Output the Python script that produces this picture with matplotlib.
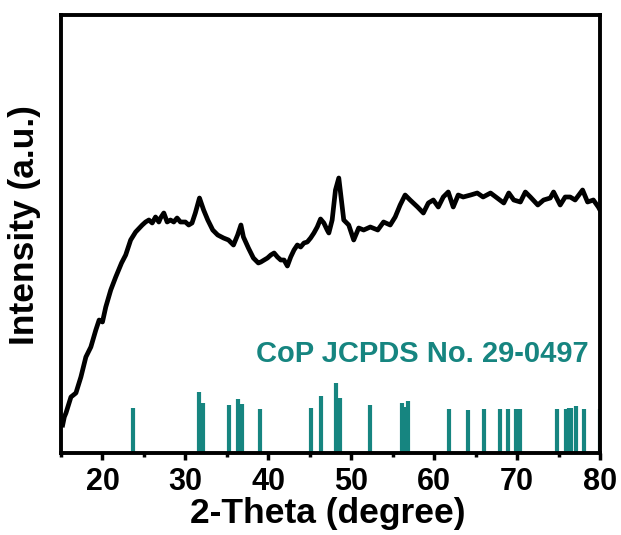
import matplotlib
matplotlib.use("Agg")
import matplotlib.pyplot as plt
from matplotlib.ticker import MultipleLocator

# ---- data ----
two_theta = [15.2, 15.4, 15.6, 16.2, 16.8, 17.4, 18.0, 18.6, 19.2, 19.6, 20.0, 20.4, 21.0, 21.6,
             22.3, 22.8, 23.4, 24.0, 24.8, 25.2, 25.6, 26.0, 26.4, 26.8, 27.0, 27.4, 27.8,
             28.2, 28.6, 29.0, 29.4, 30.0, 30.4, 30.8, 31.2, 31.7, 32.2, 32.7, 33.3, 33.9,
             34.6, 35.2, 35.8, 36.3, 36.7, 37.0, 37.6, 38.2, 38.8, 39.1, 39.5, 39.9, 40.3,
             40.7, 41.1, 41.5, 41.9, 42.3, 42.7, 43.1, 43.5, 43.9, 44.3, 44.7, 45.1, 45.5,
             45.9, 46.3, 46.7, 47.1, 47.3, 47.7, 48.1, 48.5, 49.1, 49.7, 50.3, 50.9, 51.5,
             52.3, 53.2, 53.9, 54.7, 55.3, 55.9, 56.5, 57.1, 58.0, 58.7, 59.3, 59.9, 60.5,
             61.1, 61.7, 62.3, 62.9, 63.5, 64.4, 65.2, 65.9, 66.8, 67.6, 68.4, 69.0, 69.6,
             70.4, 71.0, 71.6, 72.5, 73.2, 74.0, 74.4, 75.2, 75.8, 76.4, 77.0, 77.9, 78.5,
             79.2, 79.8, 80.0]
intensity = [28, 36, 40, 56, 60, 76, 96, 106, 123, 133, 131, 146, 163, 176,
             190, 198, 213, 221, 228, 231, 233, 230, 236, 231, 235, 240, 231,
             233, 231, 235, 231, 231, 228, 230, 240, 255, 243, 233, 223, 218,
             215, 213, 208, 218, 228, 216, 205, 195, 190, 191, 193, 195, 198,
             200, 196, 193, 193, 187, 196, 203, 208, 206, 210, 211, 215, 220,
             226, 234, 230, 223, 220, 233, 263, 275, 233, 228, 213, 225, 223,
             226, 223, 231, 228, 236, 248, 258, 253, 246, 240, 250, 253, 246,
             256, 261, 246, 258, 256, 258, 260, 256, 260, 255, 250, 260, 253,
             251, 261, 256, 248, 253, 255, 261, 248, 256, 256, 253, 263, 251,
             253, 246, 243]

ref_pos = [23.7, 31.7, 32.1, 35.3, 36.3, 36.8, 39.0, 45.2, 46.3, 48.2, 48.6, 52.3,
           56.1, 56.4, 56.9, 61.8, 64.1, 66.0, 68.0, 68.9, 69.9, 70.4, 74.8, 75.9,
           76.3, 76.5, 77.1, 78.1, 79.95]
ref_height = [45, 61, 50, 48, 54, 49, 44, 45, 57, 70, 55, 48,
              50, 46, 52, 44, 43, 44, 44, 44, 44, 44, 44, 44,
              45, 45, 47, 44, 44]

xticks = [20, 30, 40, 50, 60, 70, 80]
ref_label = "CoP JCPDS No. 29-0497"
teal = "#168580"

plt.rcParams['font.family'] = ['Liberation Sans', 'DejaVu Sans']
plt.rcParams['font.weight'] = 'bold'

fig = plt.figure(figsize=(6.21, 5.35), dpi=100)
ax = fig.add_axes([61/621, 82/535, 539/621, 438/535])

ax.plot(two_theta, intensity, color='black', lw=3.4, solid_joinstyle='round')
ax.vlines(ref_pos, 0, ref_height, color=teal, lw=3.0)

ax.set_xlim(15, 80)
ax.set_ylim(0, 438)
ax.set_xticks(xticks)
ax.xaxis.set_minor_locator(MultipleLocator(5))
ax.set_yticks([])

for s in ax.spines.values():
    s.set_linewidth(2.8)

ax.tick_params(axis='x', which='major', direction='out', length=5, width=2.5,
               labelsize=22, pad=5)
ax.tick_params(axis='x', which='minor', direction='out', length=3, width=2.5)
for lab in ax.get_xticklabels():
    lab.set_fontweight('bold')

ax.set_xlabel("2-Theta (degree)", fontsize=25.5, fontweight='bold')
ax.set_ylabel("Intensity (a.u.)", fontsize=25.5, fontweight='bold')
ax.xaxis.set_label_coords(0.494, -0.10)
ax.yaxis.set_label_coords(-0.037, 0.52)

ax.text(0.978, 0.208, ref_label, transform=ax.transAxes, ha='right', va='baseline',
        color=teal, fontsize=21, fontweight='bold')

fig.savefig("out.png", dpi=100)
